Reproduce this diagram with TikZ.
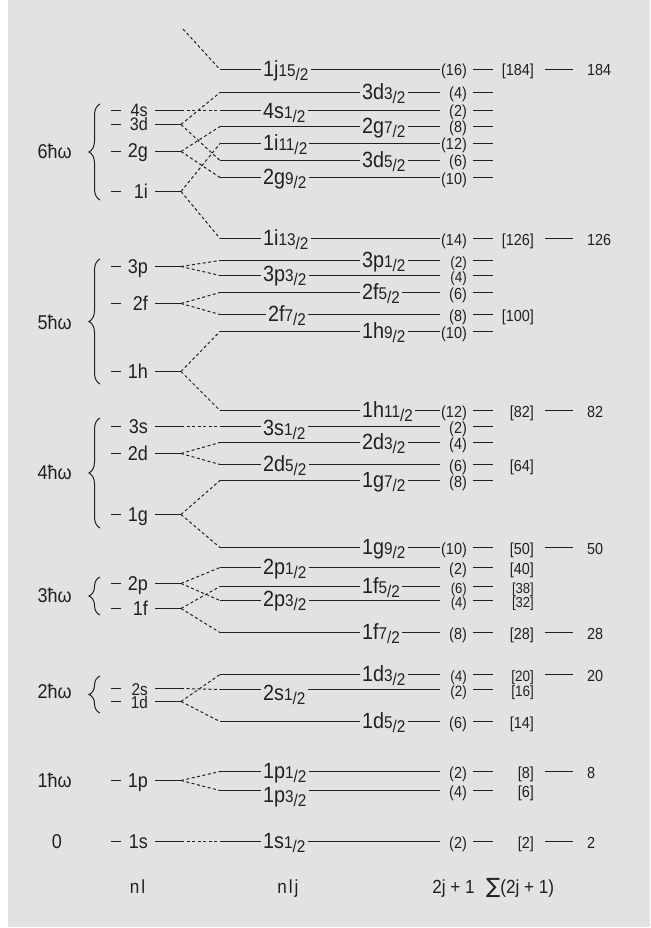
\documentclass[tikz,border=0pt]{standalone}
\usepackage{fontspec}
\setmainfont{Liberation Sans}[FakeStretch=0.9]
\newfontfamily\sumfont{DejaVu Sans}
\usetikzlibrary{decorations.pathreplacing}
\definecolor{bg}{HTML}{E1E2E4}
\definecolor{ink}{HTML}{231F20}
\newcommand\jl[2]{#1{\fontsize{17}{17}\selectfont #2\raisebox{-4pt}{/2}}}
\newcommand\Rlev[7][16]{%
  \coordinate (#2s) at (220,#3);
  \coordinate (#2e) at (440,#3);
  \node[lab] (#2l) at (#4-2,#3+#5) {#6};
  \draw[lvl] (#2s) -- (#2l.west |- #2s);
  \draw[lvl] (#2l.east |- #2s) -- (#2e);
  \node[cnt, font=\fontsize{#1}{#1}\selectfont] (#2c) at (467,#3+6.5) {(#7)};
  \coordinate (#2a) at (473,#3);
  \coordinate (#2b) at (493,#3);
  \draw[lvl] (#2a) -- (#2b);
}
\newcommand\Rsum[4][16]{\node[cnt, font=\fontsize{#1}{#1}\selectfont] (#2S) at (534,#3+6.5) {[#4]};}
\newcommand\Rmag[3]{%
  \coordinate (#1m) at (545,#2); \coordinate (#1n) at (573,#2);
  \draw[lvl] (#1m) -- (#1n);
  \node[mag] (#1M) at (587,#2+6.5) {#3};}
\newcommand\Llev[4][20]{%
  \coordinate (#2p) at (111,#3); \coordinate (#2q) at (121,#3);
  \draw[lvl] (#2p) -- (#2q);
  \node[nlab, font=\fontsize{#1}{#1}\selectfont] (#2t) at (148,#3+6.5) {#4};
  \coordinate (#2a) at (155,#3); \coordinate (#2b) at (181,#3);
  \draw[lvl] (#2a) -- (#2b);}
\begin{document}
\begin{tikzpicture}[x=1pt,y=-1pt,
  every node/.style={inner sep=0pt, text=ink},
  lvl/.style={draw=ink, line width=1.3pt},
  conn/.style={draw=ink, line width=1pt, dash pattern=on 3pt off 2.5pt},
  lab/.style={anchor=base west, font=\fontsize{22}{22}\selectfont, inner xsep=2pt},
  cnt/.style={anchor=base east, font=\fontsize{16}{16}\selectfont},
  mag/.style={anchor=base west, font=\fontsize{16}{16}\selectfont},
  nlab/.style={anchor=base east},
  hw/.style={anchor=base east, font=\fontsize{20}{20}\selectfont},
  foot/.style={anchor=base, font=\fontsize{19}{19}\selectfont},
  brc/.style={draw=ink, line width=1pt, decorate, decoration={brace, amplitude=11pt}}]
\useasboundingbox (0,0) rectangle (650,928);
\fill[bg] (8,0) rectangle (650,927);
% right levels: [count size], name, y, label x, baseline offset, label, 2j+1
\Rlev{R1j15}{69.5}{263}{7}{\jl{1j}{15}}{16}
\Rlev{R3d3}{92.5}{362}{7}{\jl{3d}{3}}{4}
\Rlev{R4s1}{110.5}{263}{8}{\jl{4s}{1}}{2}
\Rlev{R2g7}{126.5}{362}{7}{\jl{2g}{7}}{8}
\Rlev{R1i11}{143.5}{263}{7}{\jl{1i}{11}}{12}
\Rlev{R3d5}{160.5}{362}{7}{\jl{3d}{5}}{6}
\Rlev{R2g9}{177.5}{263}{7}{\jl{2g}{9}}{10}
\Rlev{R1i13}{238.5}{263}{7}{\jl{1i}{13}}{14}
\Rlev[15]{R3p1}{260.5}{362}{7}{\jl{3p}{1}}{2}
\Rlev[15]{R3p3}{275.5}{263}{6}{\jl{3p}{3}}{4}
\Rlev{R2f5}{292.5}{362}{7}{\jl{2f}{5}}{6}
\Rlev{R2f7}{314.5}{268}{7}{\jl{2f}{7}}{8}
\Rlev{R1h9}{331.5}{362}{7}{\jl{1h}{9}}{10}
\Rlev{R1h11}{410.5}{362}{7}{\jl{1h}{11}}{12}
\Rlev{R3s1}{426.5}{263}{9}{\jl{3s}{1}}{2}
\Rlev{R2d3}{442.5}{362}{7}{\jl{2d}{3}}{4}
\Rlev{R2d5}{464.5}{263}{7}{\jl{2d}{5}}{6}
\Rlev{R1g7}{480.5}{362}{7}{\jl{1g}{7}}{8}
\Rlev{R1g9}{547.5}{362}{7}{\jl{1g}{9}}{10}
\Rlev{R2p1}{567.5}{263}{7}{\jl{2p}{1}}{2}
\Rlev[14.5]{R1f5}{586.5}{362}{7}{\jl{1f}{5}}{6}
\Rlev[14.5]{R2p3}{600.5}{263}{6}{\jl{2p}{3}}{4}
\Rlev{R1f7}{632.5}{362}{7}{\jl{1f}{7}}{8}
\Rlev[15]{R1d3}{674.5}{362}{7}{\jl{1d}{3}}{4}
\Rlev[15]{R2s1}{689.5}{263}{11}{\jl{2s}{1}}{2}
\Rlev{R1d5}{721.5}{362}{7}{\jl{1d}{5}}{6}
\Rlev{R1p1}{771.5}{263}{7}{\jl{1p}{1}}{2}
\Rlev{R1p3}{790.5}{263}{12}{\jl{1p}{3}}{4}
\Rlev{R1s1}{841.5}{263}{7}{\jl{1s}{1}}{2}
% cumulative sums
\Rsum{R1j15}{69.5}{184}
\Rsum{R1i13}{238.5}{126}
\Rsum{R2f7}{314.5}{100}
\Rsum{R1h11}{410.5}{82}
\Rsum{R2d5}{464.5}{64}
\Rsum{R1g9}{547.5}{50}
\Rsum{R2p1}{567.5}{40}
\Rsum[14.5]{R1f5}{586.5}{38}
\Rsum[14.5]{R2p3}{600.5}{32}
\Rsum{R1f7}{632.5}{28}
\Rsum[15]{R1d3}{674.5}{20}
\Rsum[15]{R2s1}{689.5}{16}
\Rsum{R1d5}{721.5}{14}
\Rsum{R1p1}{771.5}{8}
\Rsum{R1p3}{790.5}{6}
\Rsum{R1s1}{841.5}{2}
% magic numbers
\Rmag{R1j15}{69.5}{184}
\Rmag{R1i13}{238.5}{126}
\Rmag{R1h11}{410.5}{82}
\Rmag{R1g9}{547.5}{50}
\Rmag{R1f7}{632.5}{28}
\Rmag{R1d3}{674.5}{20}
\Rmag{R1p1}{771.5}{8}
\Rmag{R1s1}{841.5}{2}
% left levels
\Llev[18]{L4s}{110.5}{4s}
\Llev[18]{L3d}{124.5}{3d}
\Llev{L2g}{151.5}{2g}
\Llev{L1i}{191.5}{1i}
\Llev{L3p}{266.5}{3p}
\Llev{L2f}{303.5}{2f}
\Llev{L1h}{371.5}{1h}
\Llev{L3s}{426.5}{3s}
\Llev{L2d}{453.5}{2d}
\Llev{L1g}{514.5}{1g}
\Llev{L2p}{583.5}{2p}
\Llev{L1f}{608.5}{1f}
\Llev[17]{L2s}{688.5}{2s}
\Llev[17]{L1d}{701.5}{1d}
\Llev{L1p}{780.5}{1p}
\Llev{L1s}{841.5}{1s}
% connectors
\coordinate (top) at (183,29);
\draw[conn] (top) -- (R1j15s);
\draw[conn] (L4sb) -- (R4s1s);
\draw[conn] (L3db) -- (R3d3s);
\draw[conn] (L3db) -- (R3d5s);
\draw[conn] (L2gb) -- (R2g7s);
\draw[conn] (L2gb) -- (R2g9s);
\draw[conn] (L1ib) -- (R1i11s);
\draw[conn] (L1ib) -- (R1i13s);
\draw[conn] (L3pb) -- (R3p1s);
\draw[conn] (L3pb) -- (R3p3s);
\draw[conn] (L2fb) -- (R2f5s);
\draw[conn] (L2fb) -- (R2f7s);
\draw[conn] (L1hb) -- (R1h9s);
\draw[conn] (L1hb) -- (R1h11s);
\draw[conn] (L3sb) -- (R3s1s);
\draw[conn] (L2db) -- (R2d3s);
\draw[conn] (L2db) -- (R2d5s);
\draw[conn] (L1gb) -- (R1g7s);
\draw[conn] (L1gb) -- (R1g9s);
\draw[conn] (L2pb) -- (R2p1s);
\draw[conn] (L2pb) -- (R2p3s);
\draw[conn] (L1fb) -- (R1f5s);
\draw[conn] (L1fb) -- (R1f7s);
\draw[conn] (L2sb) -- (R2s1s);
\draw[conn] (L1db) -- (R1d3s);
\draw[conn] (L1db) -- (R1d5s);
\draw[conn] (L1pb) -- (R1p1s);
\draw[conn] (L1pb) -- (R1p3s);
\draw[conn] (L1sb) -- (R1s1s);
% shell labels and braces
\node[hw] (h6) at (72,159) {6ħω};
\node[hw] (h5) at (72,329) {5ħω};
\node[hw] (h4) at (72,479) {4ħω};
\node[hw] (h3) at (72,602) {3ħω};
\node[hw] (h2) at (72,698) {2ħω};
\node[hw] (h1) at (72,787.5) {1ħω};
\node[foot, font=\fontsize{20}{20}\selectfont] (h0) at (57,848.5) {0};
\draw[brc] (100,200) -- (100,104);
\draw[brc] (100,384) -- (100,259);
\draw[brc] (100,528) -- (100,418);
\draw[brc] (100,615) -- (100,577);
\draw[brc] (100,713) -- (100,676);
% column captions
\node[foot] (c1) at (137.5,893) {n\kern2pt l};
\node[foot] (c2) at (288,893) {n\kern2pt l\kern2pt j};
\node[foot] (c3) at (453.5,893) {2j + 1};
\node[foot, anchor=base west] (c4) at (486,893) {{\sumfont\fontsize{21}{21}\selectfont ∑}(2j + 1)};
\end{tikzpicture}
\end{document}
